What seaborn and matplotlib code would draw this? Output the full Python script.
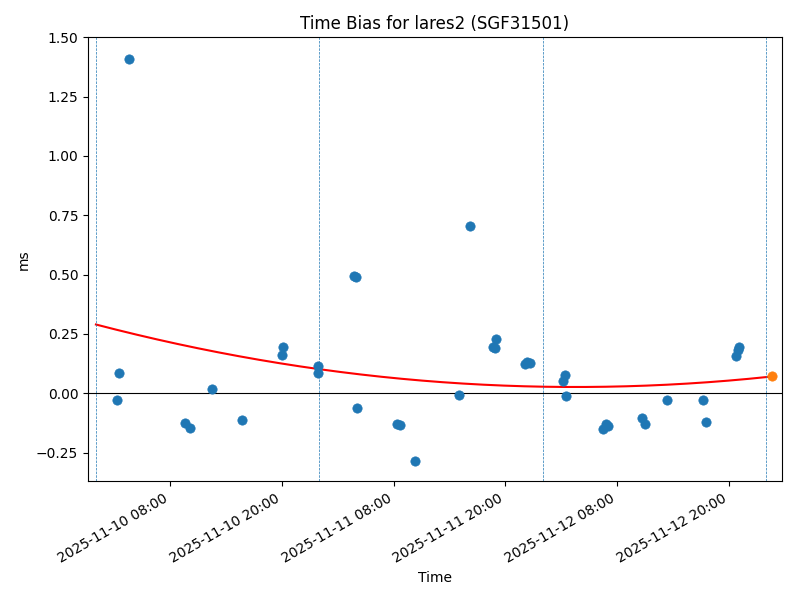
import pandas as pd
import numpy as np
import matplotlib
matplotlib.use("Agg")
import matplotlib.pyplot as plt
import matplotlib.dates as mdates
import seaborn as sns

# observed time bias (ms)
obs_times = [
    "2025-11-10 02:18", "2025-11-10 02:31", "2025-11-10 03:35", "2025-11-10 09:36",
    "2025-11-10 10:08", "2025-11-10 12:30", "2025-11-10 15:44", "2025-11-10 20:01",
    "2025-11-10 20:07", "2025-11-10 23:53", "2025-11-10 23:54", "2025-11-11 03:47",
    "2025-11-11 03:59", "2025-11-11 04:05", "2025-11-11 08:24", "2025-11-11 08:42",
    "2025-11-11 10:19", "2025-11-11 15:03", "2025-11-11 16:13", "2025-11-11 18:40",
    "2025-11-11 18:55", "2025-11-11 19:01", "2025-11-11 22:08", "2025-11-11 22:16",
    "2025-11-11 22:38", "2025-11-12 02:13", "2025-11-12 02:24", "2025-11-12 02:32",
    "2025-11-12 06:31", "2025-11-12 06:46", "2025-11-12 06:59", "2025-11-12 10:38",
    "2025-11-12 10:58", "2025-11-12 13:23", "2025-11-12 17:16", "2025-11-12 17:35",
    "2025-11-12 20:49", "2025-11-12 20:57", "2025-11-12 21:04",
]
obs_bias = [
    -0.029, 0.087, 1.408, -0.123,
    -0.147, 0.020, -0.114, 0.163,
    0.194, 0.114, 0.087, 0.494,
    0.491, -0.060, -0.131, -0.133,
    -0.287, -0.006, 0.705, 0.194,
    0.192, 0.227, 0.122, 0.132,
    0.129, 0.052, 0.076, -0.010,
    -0.149, -0.128, -0.139, -0.105,
    -0.129, -0.027, -0.027, -0.119,
    0.159, 0.181, 0.195,
]

# predicted point
pred_time = "2025-11-13 00:40"

# quadratic fit coefficients (hours since first day start)
fit_coef = [9.92e-5, -0.01022, 0.290]

day_starts = ["2025-11-10", "2025-11-11", "2025-11-12", "2025-11-13"]

df = pd.DataFrame({"time": pd.to_datetime(obs_times), "bias": obs_bias})
t0 = pd.Timestamp(day_starts[0])

pred_t = pd.Timestamp(pred_time)
fit_t = pd.date_range(t0, pred_t, periods=200)
fit_h = (fit_t - t0).total_seconds() / 3600
fit_df = pd.DataFrame({"time": fit_t, "bias": np.polyval(fit_coef, fit_h)})
pred_h = (pred_t - t0).total_seconds() / 3600
pred_df = pd.DataFrame({"time": [pred_t], "bias": [np.polyval(fit_coef, pred_h)]})

fig, ax = plt.subplots(figsize=(8, 6), dpi=100)

sns.scatterplot(data=df, x="time", y="bias", ax=ax, color="C0", s=45,
                edgecolor="C0", linewidth=0.5, zorder=3)
sns.lineplot(data=fit_df, x="time", y="bias", ax=ax, color="red", linewidth=1.5, zorder=2)
sns.scatterplot(data=pred_df, x="time", y="bias", ax=ax, color="C1", s=45,
                edgecolor="C1", linewidth=0.5, zorder=4)

for d in day_starts:
    ax.axvline(pd.Timestamp(d), color="C0", linestyle="--", linewidth=0.5)
ax.axhline(0, color="black", linewidth=0.8)

ax.set_xlim(pd.Timestamp("2025-11-09 23:09"), pd.Timestamp("2025-11-13 01:43"))
ax.set_ylim(-0.37, 1.5)
ax.xaxis.set_major_locator(mdates.HourLocator(byhour=[8, 20]))
ax.xaxis.set_major_formatter(mdates.DateFormatter("%Y-%m-%d %H:%M"))

ax.set_title("Time Bias for lares2 (SGF31501)")
ax.set_xlabel("Time")
ax.set_ylabel("ms")
fig.autofmt_xdate()

plt.subplots_adjust(left=0.11, right=0.9775, top=0.938, bottom=0.198)
plt.savefig("out.png")
plt.close()
